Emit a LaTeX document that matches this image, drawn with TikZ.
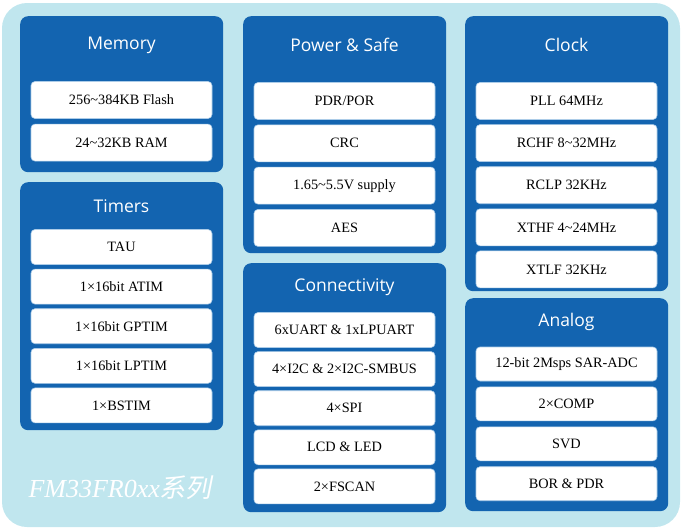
\documentclass[tikz,border=0pt]{standalone}
\usepackage{fontspec}
\setmainfont{Liberation Serif}
\newfontfamily\titlefont{Open Sans}
\newfontfamily\cjkfont[FakeSlant=0.2]{Noto Sans CJK SC}
\usepackage{tikz}
\usetikzlibrary{positioning}
\usepackage{xcolor}
\definecolor{bgblue}{RGB}{192,230,238}
\definecolor{panelblue}{RGB}{19,100,176}
\definecolor{itemedge}{RGB}{172,204,232}

\begin{document}
\begin{tikzpicture}[x=1pt, y=-1pt,
  panel/.style={fill=panelblue, rounded corners=8pt, minimum width=203pt, inner sep=0pt, anchor=north west},
  title/.style={text=white, font=\titlefont\fontsize{17.5}{20}\selectfont},
  item/.style={fill=white, draw=itemedge, line width=0.6pt, rounded corners=4pt,
    minimum width=181pt, minimum height=36pt, inner sep=0pt, font=\fontsize{14.3}{16}\selectfont},
  footer/.style={text=white, anchor=west, font=\itshape\fontsize{26}{30}\selectfont}]
\useasboundingbox (0,0) rectangle (684,530);
\fill[bgblue, rounded corners=25pt] (2,3) rectangle (680,527);

% Memory
\node[panel, minimum height=156pt] (mem) at (20,16) {};
\node[title] (memt) at (121.5,45) {Memory};
\node[item, minimum height=37pt] (flash) at (121.5,100) {256\textasciitilde384KB Flash};
\node[item, minimum height=37pt, below=5pt of flash] (ram) {24\textasciitilde32KB RAM};

% Timers
\node[panel, minimum height=248pt] (tim) at (20,182) {};
\node[title] (timt) at (121.5,206) {Timers};
\node[item, minimum height=35pt] (tau) at (121.5,247) {TAU};
\node[item, minimum height=35pt, below=4pt of tau] (atim) {1×16bit ATIM};
\node[item, minimum height=35pt, below=4pt of atim] (gptim) {1×16bit GPTIM};
\node[item, minimum height=35pt, below=4pt of gptim] (lptim) {1×16bit LPTIM};
\node[item, minimum height=35pt, below=4pt of lptim] (bstim) {1×BSTIM};

% Power & Safe
\node[panel, minimum height=237pt] (pow) at (243,16) {};
\node[title] (powt) at (344.5,45) {Power \& Safe};
\node[item, minimum height=37pt] (pdr) at (344.5,101) {PDR/POR};
\node[item, minimum height=37pt, below=4.7pt of pdr] (crc) {CRC};
\node[item, minimum height=37pt, below=4.7pt of crc] (supply) {1.65\textasciitilde5.5V supply};
\node[item, minimum height=37pt, below=4.7pt of supply] (aes) {AES};

% Connectivity
\node[panel, minimum height=249pt] (con) at (243,263) {};
\node[title] (cont) at (344.5,287) {Connectivity};
\node[item, minimum height=35pt] (uart) at (344.5,330) {6xUART \& 1xLPUART};
\node[item, minimum height=35pt, below=3.5pt of uart] (iic) {4×I2C \& 2×I2C-SMBUS};
\node[item, minimum height=35pt, below=3.5pt of iic] (spi) {4×SPI};
\node[item, minimum height=35pt, below=3.5pt of spi] (lcd) {LCD \& LED};
\node[item, minimum height=35pt, below=3.5pt of lcd] (fscan) {2×FSCAN};

% Clock
\node[panel, minimum height=275pt] (clk) at (465,16) {};
\node[title] (clkt) at (566.5,45) {Clock};
\node[item, minimum height=37pt] (pll) at (566.5,101) {PLL 64MHz};
\node[item, minimum height=37pt, below=4.5pt of pll] (rchf) {RCHF 8\textasciitilde32MHz};
\node[item, minimum height=37pt, below=4.5pt of rchf] (rclp) {RCLP 32KHz};
\node[item, minimum height=37pt, below=4.5pt of rclp] (xthf) {XTHF 4\textasciitilde24MHz};
\node[item, minimum height=37pt, below=4.5pt of xthf] (xtlf) {XTLF 32KHz};

% Analog
\node[panel, minimum height=213pt] (ana) at (465,298) {};
\node[title] (anat) at (566.5,322) {Analog};
\node[item, minimum height=34pt] (adc) at (566.5,364) {12-bit 2Msps SAR-ADC};
\node[item, minimum height=34pt, below=5.3pt of adc] (comp) {2×COMP};
\node[item, minimum height=34pt, below=5.3pt of comp] (svd) {SVD};
\node[item, minimum height=34pt, below=5.3pt of svd] (bor) {BOR \& PDR};

\node[footer] (series) at (25,488) {FM33FR0xx{\cjkfont 系列}};
\end{tikzpicture}
\end{document}
